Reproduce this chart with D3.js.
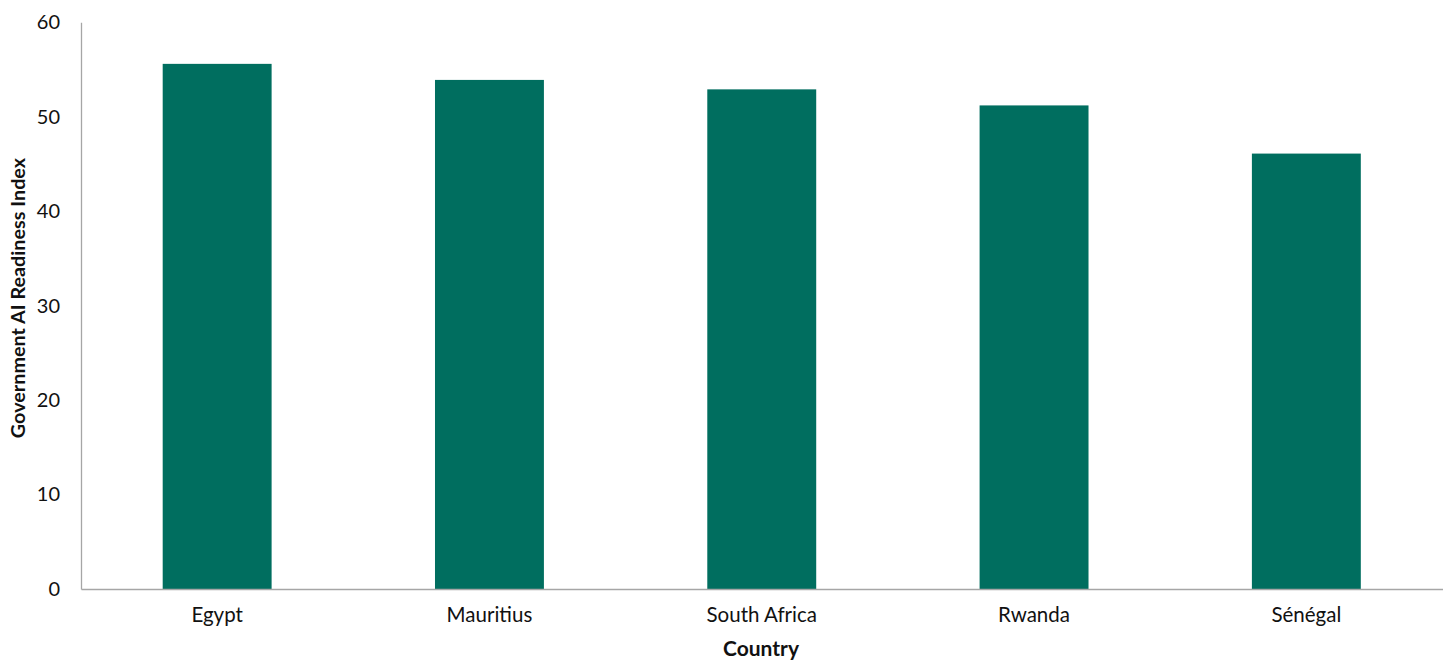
<!DOCTYPE html>
<html><head><meta charset="utf-8">
<script src="https://cdn.jsdelivr.net/npm/d3@7"></script>
<style>body{margin:0;background:#fff}svg{display:block}text{font-family:Lato,"Open Sans",sans-serif;fill:#111}</style>
</head><body><svg id="c" width="1451" height="662"></svg>
<script>
const categories = ["Egypt","Mauritius","South Africa","Rwanda","Sénégal"];
const values = [55.6, 53.9, 52.9, 51.2, 46.1];
const yTicks = [0,10,20,30,40,50,60];
const yTitle = "Government AI Readiness Index";
const xTitle = "Country";

const svg = d3.select("#c");
const m = {l:81, r:1442.5, t:22.3, b:589};
const x = d3.scaleBand().domain(categories).range([m.l, m.r]).paddingInner(0.6).paddingOuter(0.3);
const y = d3.scaleLinear().domain([0,60]).range([m.b, m.t]);

svg.selectAll("rect.bar").data(categories).join("rect").attr("class","bar")
  .attr("x", d=>x(d)).attr("width", x.bandwidth())
  .attr("y", (d,i)=>y(values[i])).attr("height", (d,i)=>y(0)-y(values[i]))
  .attr("fill","#006e5f");

const ya = svg.append("g").attr("transform",`translate(${m.l},0)`)
  .call(d3.axisLeft(y).tickValues(yTicks).tickSize(0).tickPadding(21));
ya.select(".domain").attr("stroke","#a6a6a6").attr("stroke-width",1.3);
ya.selectAll("text").style("font-size","20px").attr("fill","#111");

const xa = svg.append("g").attr("transform",`translate(0,${m.b})`)
  .call(d3.axisBottom(x).tickSize(0).tickPadding(18));
xa.select(".domain").attr("stroke","#a6a6a6").attr("stroke-width",1.3);
xa.selectAll("text").style("font-size","20.5px").attr("fill","#111");

svg.append("text").attr("transform","translate(25,298) rotate(-90)")
  .attr("text-anchor","middle").style("font-size","19.8px").style("font-weight","bold").text(yTitle);
svg.append("text").attr("x",761).attr("y",656)
  .attr("text-anchor","middle").style("font-size","21px").style("font-weight","bold").text(xTitle);
</script></body></html>
